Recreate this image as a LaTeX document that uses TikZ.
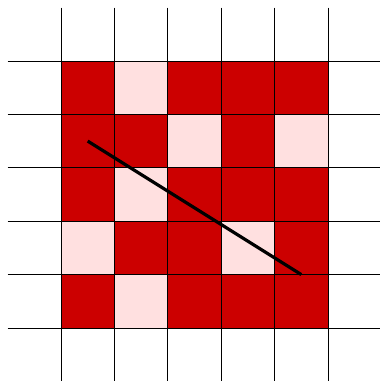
\documentclass[tikz,border=0pt]{standalone}
\definecolor{cred}{HTML}{CC0000}
\definecolor{cpink}{HTML}{FFE0E0}
\tikzset{redcell/.style={fill=cred,draw=black,line width=0.5pt},
pinkcell/.style={fill=cpink,draw=black,line width=0.5pt},
gridline/.style={draw=black,line width=0.5pt},
diag/.style={draw=black,line width=1.7pt}}
\begin{document}
\begin{tikzpicture}[x=1cm,y=-1cm]
\useasboundingbox (-1.142,-1.142) rectangle (5.974,5.993);
\fill[white] (-1.142,-1.142) rectangle (5.974,5.993);
\foreach \i in {0,...,5} {
  \draw[gridline] (\i,-1) -- (\i,6);
  \draw[gridline] (-1,\i) -- (6,\i);
}
\foreach \r/\row in {0/{1,0,1,1,1},1/{1,1,0,1,0},2/{1,0,1,1,1},3/{0,1,1,0,1},4/{1,0,1,1,1}} {
  \foreach \v [count=\c from 0] in \row {
    \ifnum\v=1
      \path[redcell] (\c,\r) rectangle ++(1,1);
    \else
      \path[pinkcell] (\c,\r) rectangle ++(1,1);
    \fi
  }
}
\coordinate (s) at (0.5,1.5);
\coordinate (e) at (4.5,4);
\draw[diag] (s) -- (e);
\end{tikzpicture}
\end{document}
